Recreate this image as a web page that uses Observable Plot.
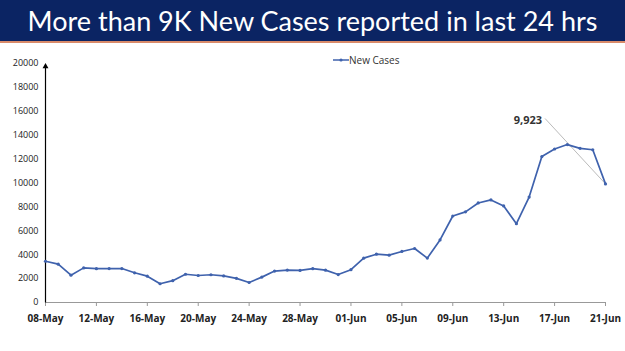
<!DOCTYPE html>
<html>
<head>
<meta charset="utf-8">
<script src="https://cdn.jsdelivr.net/npm/d3@7"></script>
<script src="https://cdn.jsdelivr.net/npm/@observablehq/plot@0.6"></script>
<style>
  html, body { margin: 0; padding: 0; background: #fff; }
  body { width: 625px; height: 351px; overflow: hidden; position: relative; font-family: "Open Sans", "DejaVu Sans", sans-serif; }
  #title {
    height: 41px; background: #0b2463; color: #fff;
    border-bottom: 2px solid #d98b6a;
    font-family: Lato, "Open Sans", sans-serif; font-size: 27px; font-weight: 400;
    line-height: 41px; text-align: center; white-space: nowrap;
  }
  #legend {
    position: absolute; left: 333px; top: 53px; font-size: 10px; color: #333;
    display: flex; align-items: center; font-family: "Open Sans", sans-serif;
  }
  #chart { display: block; }
</style>
</head>
<body>
<div id="title">More than 9K New Cases reported in last 24 hrs</div>
<div id="legend"><svg width="16" height="8"><line x1="0" y1="4" x2="16" y2="4" stroke="#3f62ad" stroke-width="1.5"/><circle cx="8" cy="4" r="1.6" fill="#3f62ad"/></svg><span>New Cases</span></div>
<div id="chart"></div>
<script>
const startDate = "2022-05-08";
const endDate = "2022-06-21";
const newCases = [
  3451, 3207, 2288, 2897, 2827, 2841, 2841, 2487, 2202, 1569,
  1829, 2364, 2259, 2323, 2226, 2022, 1675, 2124, 2628, 2710,
  2685, 2828, 2706, 2338, 2745, 3712, 4041, 3962, 4270, 4518,
  3714, 5233, 7240, 7584, 8329, 8582, 8084, 6594, 8822, 12213,
  12847, 13216, 12899, 12781, 9923
];
const tickLabels = ["08-May","12-May","16-May","20-May","24-May","28-May","01-Jun","05-Jun","09-Jun","13-Jun","17-Jun","21-Jun"];
const yTicks = [0, 2000, 4000, 6000, 8000, 10000, 12000, 14000, 16000, 18000, 20000];
const annotationText = "9,923";

const start = new Date(startDate + "T00:00:00Z");
const end = new Date(endDate + "T00:00:00Z");
const dates = d3.utcDay.range(start, d3.utcDay.offset(end, 1));
const data = dates.map((d, i) => ({date: d, value: newCases[i]}));
const monthIdx = {May: 4, Jun: 5};
const tickDates = tickLabels.map(s => new Date(Date.UTC(2022, monthIdx[s.slice(3)], +s.slice(0, 2))));
const fmt = d => tickLabels[tickDates.findIndex(t => +t === +d)];
const last = data[data.length - 1];
const labelAnchor = {date: new Date(Date.UTC(2022, 5, 16, 6)), value: 15400};

const plot = Plot.plot({
  width: 625,
  height: 308,
  marginLeft: 45,
  marginRight: 20,
  marginTop: 20,
  marginBottom: 49,
  style: {fontFamily: "'Open Sans', sans-serif", fontSize: "9px", background: "#fff"},
  x: {type: "utc", domain: [start, end], ticks: tickDates, tickFormat: fmt, label: null},
  y: {domain: [0, 20000], ticks: yTicks, label: null},
  marks: [
    Plot.axisY({ticks: yTicks, tickSize: 0, tickPadding: 7, tickFormat: d => String(d), fill: "#222", fontSize: 9}),
    Plot.axisX({ticks: tickDates, tickFormat: fmt, tickSize: 4, tickPadding: 8, fontWeight: "bold", fontSize: 10, fill: "#222", stroke: "#999"}),
    Plot.ruleY([0], {stroke: "#999", strokeWidth: 1}),
    Plot.link([{}], {x1: () => start, x2: () => start, y1: () => 0, y2: () => 19750, stroke: "#000", strokeWidth: 1.2}),
    Plot.dot([{}], {x: () => start, y: () => 19750, symbol: "triangle", r: 2.2, fill: "#000", stroke: null}),
    Plot.link([last], {x1: "date", y1: "value", x2: () => labelAnchor.date, y2: () => labelAnchor.value, stroke: "#bbb", strokeWidth: 1}),
    Plot.text([labelAnchor], {x: "date", y: "value", text: () => annotationText, textAnchor: "end", dx: -3, dy: 2, fontSize: 11, fontWeight: "bold", fill: "#333"}),
    Plot.line(data, {x: "date", y: "value", stroke: "#3f62ad", strokeWidth: 1.7}),
    Plot.dot(data, {x: "date", y: "value", r: 1.6, fill: "#3f62ad", stroke: null})
  ]
});
document.getElementById("chart").appendChild(plot);
</script>
</body>
</html>
